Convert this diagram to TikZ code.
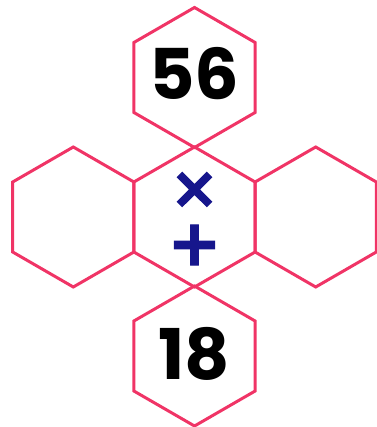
\documentclass[tikz,border=0pt]{standalone}
\usepackage{fontspec}
\setmainfont{Poppins}
\newfontfamily\symfont[FakeBold=2]{DejaVu Sans Bold}
\usetikzlibrary{shapes.geometric}
\definecolor{hexpink}{RGB}{240,52,102}
\definecolor{opnavy}{RGB}{22,22,140}
\begin{document}
\begin{tikzpicture}[x=1pt,y=-1pt,
  hexcell/.style={regular polygon,regular polygon sides=6,shape border rotate=30,minimum size=140pt,inner sep=0pt,outer sep=0pt,draw=hexpink,line width=3pt},
  numtext/.style={font=\fontsize{70}{70}\selectfont\bfseries,text=black},
  optext/.style={text=opnavy,inner sep=0pt}]
\useasboundingbox (0,0) rectangle (376,427);
\node[hexcell] (top) at (194.5,77.5) {};
\node[hexcell] (mid) at (194.5,217) {};
\node[hexcell] (left) at (73.3,217) {};
\node[hexcell] (right) at (315.7,217) {};
\node[hexcell] (bot) at (194.5,356) {};
\node[numtext] (n56) at (194.5,74) {56};
\node[numtext] (n18) at (194.5,354) {18};
\node[optext,font=\symfont\fontsize{58}{58}\selectfont] (times) at (194.5,190) {×};
\node[optext,font=\symfont\fontsize{64}{64}\selectfont] (plus) at (194.5,245) {+};
\end{tikzpicture}
\end{document}
